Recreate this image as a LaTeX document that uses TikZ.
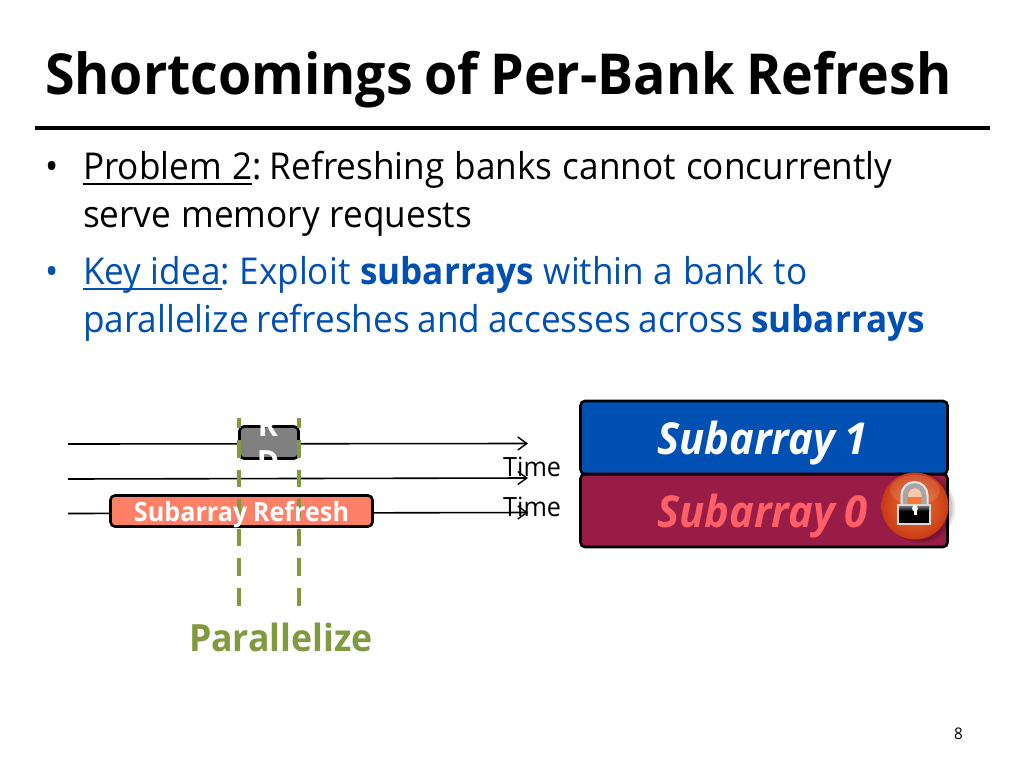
\documentclass[tikz,border=0pt]{standalone}
\usepackage{fontspec}
\setmainfont{Open Sans}[FakeStretch=0.95,WordSpace=0.85]
\usetikzlibrary{arrows.meta}
\definecolor{slideblue}{HTML}{0050B4}
\definecolor{slidered}{HTML}{991C47}
\definecolor{salmon}{HTML}{FF8066}
\definecolor{pink}{HTML}{FF5F66}
\definecolor{olive}{HTML}{7F9A3F}
\definecolor{greybox}{HTML}{808080}
\definecolor{ballin}{HTML}{F27A34}
\definecolor{ballout}{HTML}{C83A14}
\definecolor{peach}{HTML}{F6C8B0}
\newcommand{\fs}[1]{\fontsize{#1}{#1}\selectfont}
\tikzset{
  x=1pt,y=-1pt,
  txt/.style={anchor=base west,inner sep=0pt,outer sep=0pt},
  timeline/.style={line width=1.6pt,black,-{Straight Barb[length=9pt,width=13pt,line width=1.4pt]}},
  guide/.style={line width=4pt,olive,dash pattern=on 17.5pt off 12.1pt,dash phase=7.6pt},
  bar/.style={draw=black,line width=2.6pt,rounded corners=4.5pt,inner sep=0pt,outer sep=0pt},
  timelabel/.style={anchor=base west,inner sep=0pt,fill=none,font=\fs{26.5}},
}
\begin{document}
\begin{tikzpicture}
\useasboundingbox (0,0) rectangle (1024,768);
% title
\node[txt,font=\fs{56.5}\bfseries] (title) at (45,94) {Shortcomings of Per-Bank Refresh};
\coordinate (ruleL) at (35,128);
\coordinate (ruleR) at (990,128);
\draw[line width=3.4pt] (ruleL) -- (ruleR);
% bullets
\node[txt,font=\fs{37}] (b1) at (45,179.5) {•};
\node[txt,font=\fs{37}] (l1) at (83,179.5) {\spaceskip=10.2pt Problem 2:\hspace{-5pt} Refreshing banks cannot concurrently};
\node[txt,font=\fs{37}] (l2) at (83,227.5) {\spaceskip=10.2pt serve memory requests};
\coordinate (u1L) at (83,184);
\coordinate (u1R) at (252,184);
\draw[line width=1.6pt] (u1L) -- (u1R);
\node[txt,font=\fs{37},text=slideblue] (b2) at (45,284.5) {•};
\node[txt,font=\fs{37},text=slideblue] (l3) at (83,284.5) {\spaceskip=9.6pt Key idea:\hspace{-3pt} Exploit \textbf{subarrays} within a bank to};
\node[txt,font=\fs{37},text=slideblue] (l4) at (83,332.5) {parallelize refreshes and accesses across \textbf{subarrays}};
\coordinate (u2L) at (83,289);
\coordinate (u2R) at (222,289);
\draw[line width=1.6pt,slideblue] (u2L) -- (u2R);
% timelines
\coordinate (t1a) at (68,444); \coordinate (t1b) at (528,443.5);
\coordinate (t2a) at (68,479); \coordinate (t2b) at (528,478);
\coordinate (t3a) at (68,513.5); \coordinate (t3b) at (528,512.5);
\node[timelabel] (time1) at (503,476) {Time};
\node[timelabel] (time2) at (503,516) {Time};
\draw[timeline] (t1a) -- (t1b);
\draw[timeline] (t2a) -- (t2b);
\draw[timeline] (t3a) -- (t3b);
% boxes on the timelines
\node[bar,fill=greybox,minimum width=59pt,minimum height=32pt] (rd) at (269,442.5) {};
\node[bar,fill=salmon,minimum width=262pt,minimum height=31pt] (sr) at (241.5,511) {};
% dashed guides
\coordinate (g1a) at (239,418); \coordinate (g1b) at (239,606);
\coordinate (g2a) at (298.5,418); \coordinate (g2b) at (298.5,606);
\draw[guide] (g1a) -- (g1b);
\draw[guide] (g2a) -- (g2b);
% box labels over the guides
\node[anchor=base,inner sep=0pt,text=white,font=\fs{32}\bfseries,align=center] (rlab) at (268,436) {R};
\node[anchor=base,inner sep=0pt,text=white,font=\fs{32}\bfseries,align=center] (dlab) at (268,473) {D};
\node[anchor=base,inner sep=0pt,text=white,font=\fs{26.5}\bfseries] (srlab) at (241.5,521) {Subarray Refresh};
\node[anchor=base,inner sep=0pt,text=olive,font=\fs{37.5}\bfseries] (par) at (281,651) {Parallelize};
% subarrays
\node[bar,fill=slidered,minimum width=367pt,minimum height=73pt] (s0) at (764,510.5) {};
\node[bar,fill=slideblue,minimum width=367pt,minimum height=73pt] (s1) at (764,437.5) {};
\node[anchor=base west,inner sep=0pt,text=white,font=\fs{44}\bfseries\itshape] (s1lab) at (657,454) {Subarray 1};
\node[anchor=base west,inner sep=0pt,text=pink,font=\fs{44}\bfseries\itshape] (s0lab) at (657,527) {Subarray 0};
% lock icon
\fill[black,opacity=.10] (920,508) circle (35);
\fill[black,opacity=.12] (919,508) circle (33.5);
\shade[inner color=ballin,outer color=ballout] (915,506) circle (33.5);
\fill[white,opacity=.12] (915,490) ellipse (25 and 15);
\fill[peach] (908,506) -- (908,495) arc[start angle=180,end angle=0,x radius=7,y radius=-7] -- (922,506) -- cycle;
\fill[ballin] (908,497) rectangle (922,506);
\draw[line width=6pt,black!35] (904.5,507) -- (904.5,495) arc[start angle=180,end angle=0,x radius=10,y radius=-10] -- (924.5,507);
\draw[line width=2pt,white!90!black] (901.5,507) -- (901.5,495) arc[start angle=180,end angle=0,x radius=13,y radius=-13] -- (927.5,507);
\fill[black,draw=black!15,line width=1.5pt] (898,505) rectangle (930,524);
\shade[top color=black!55,bottom color=black] (899,506) rectangle (929,511);
\fill[white] (915,508.5) circle (3);
\fill[white] (913.5,509) rectangle (916.5,515);
% page number
\node[anchor=base east,inner sep=0pt,font=\fs{16}] (pg) at (963,739) {8};
\end{tikzpicture}
\end{document}
